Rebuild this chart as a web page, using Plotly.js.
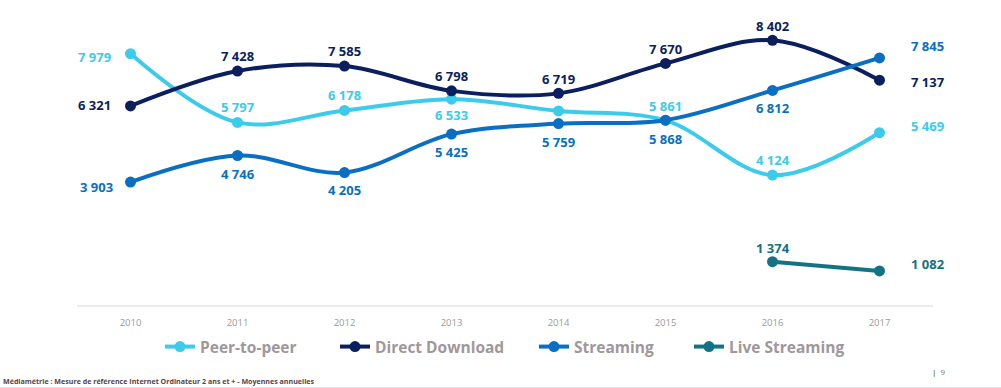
<!DOCTYPE html>
<html>
<head>
<meta charset="utf-8">
<script src="https://cdn.plot.ly/plotly-3.0.1.min.js"></script>
<style>
  html, body { margin: 0; padding: 0; background: #ffffff; }
  #chart { width: 1001px; height: 388px; }
</style>
</head>
<body>
<div id="chart"></div>
<script>
// ---- Data ----
const years = [2010, 2011, 2012, 2013, 2014, 2015, 2016, 2017];
const peerToPeer = [7979, 5797, 6178, 6533, 6160, 5861, 4124, 5469];
const directDownload = [6321, 7428, 7585, 6798, 6719, 7670, 8402, 7137];
const streaming = [3903, 4746, 4205, 5425, 5759, 5868, 6812, 7845];
const liveYears = [2016, 2017];
const liveStreaming = [1374, 1082];
const showP2PLabel = [true, true, true, true, false, true, true, true];

const seriesNames = ['Peer-to-peer', 'Direct Download', 'Streaming', 'Live Streaming'];
const tickLabels = ['2010', '2011', '2012', '2013', '2014', '2015', '2016', '2017'];

// ---- Styling / label placement (layout only) ----
const colors = ['#3ccbea', '#0b1f5e', '#0a6fc2', '#137384'];
// [anchor, xshift, yshift]
const posP2P = [['right', -18, -3], ['center', 0, 15], ['center', 0, 15], ['center', 0, -16], null, ['center', 0, 14], ['center', 0, 15], ['left', 29, 7]];
const posDD = [['right', -18, 1], ['center', 0, 15], ['center', 0, 15], ['center', 0, 15], ['center', 0, 14], ['center', 0, 14], ['center', 0, 14], ['left', 29, -2]];
const posST = [['right', -16, -5], ['center', 0, -18], ['center', 0, -17], ['center', 0, -18], ['center', 0, -18], ['center', 0, -19], ['center', 0, -18], ['left', 29, 12]];
const posLive = [['center', 0, 14], ['left', 29, 7]];
// legend text start pixels
const legendTextX = [201, 376, 575, 730];

const PL = 77, PW = 856, PB = 305, PH = 285;

function fmt(v) {
  return String(v).replace(/\B(?=(\d{3})+(?!\d))/g, ' ');
}

function mkTrace(x, y, name, color, legendId) {
  return {
    x: x, y: y, name: name, type: 'scatter', mode: 'lines+markers',
    line: {color: color, width: 4, shape: 'spline', smoothing: 1},
    marker: {color: color, size: 11},
    hoverinfo: 'skip', cliponaxis: false, legend: legendId
  };
}

const legendIds = ['legend', 'legend2', 'legend3', 'legend4'];
const traces = [
  mkTrace(years, peerToPeer, seriesNames[0], colors[0], legendIds[0]),
  mkTrace(years, directDownload, seriesNames[1], colors[1], legendIds[1]),
  mkTrace(years, streaming, seriesNames[2], colors[2], legendIds[2]),
  mkTrace(liveYears, liveStreaming, seriesNames[3], colors[3], legendIds[3])
];

const annotations = [];
function addLabels(xs, ys, pos, color, show) {
  xs.forEach((x, i) => {
    if (show && !show[i]) return;
    const p = pos[i];
    if (!p) return;
    annotations.push({
      x: x, y: ys[i], xref: 'x', yref: 'y', text: fmt(ys[i]), showarrow: false,
      xanchor: p[0], yanchor: 'middle', xshift: p[1], yshift: p[2],
      font: {family: 'Open Sans', size: 13, color: color, weight: 700}
    });
  });
}
addLabels(years, peerToPeer, posP2P, colors[0], showP2PLabel);
addLabels(years, directDownload, posDD, colors[1]);
addLabels(years, streaming, posST, colors[2]);
addLabels(liveYears, liveStreaming, posLive, colors[3]);

// footer texts
annotations.push({
  xref: 'paper', yref: 'paper', x: (1 - PL) / PW, y: -(381 - PB) / PH,
  xanchor: 'left', yanchor: 'middle', showarrow: false,
  text: 'Médiamétrie : Mesure de référence Internet Ordinateur 2 ans et + - Moyennes annuelles',
  font: {family: 'Open Sans', size: 7.1, color: '#5b4444', weight: 700}
});
annotations.push({
  xref: 'paper', yref: 'paper', x: (930 - PL) / PW, y: -(371 - PB) / PH,
  xanchor: 'left', yanchor: 'middle', showarrow: false,
  text: '<span style="color:#333">|</span>  9',
  font: {family: 'Open Sans', size: 8, color: '#777'}
});

const layout = {
  width: 1001, height: 388,
  margin: {l: PL, r: 1001 - PL - PW, t: PB - PH, b: 388 - PB},
  paper_bgcolor: '#ffffff', plot_bgcolor: '#ffffff',
  showlegend: true,
  xaxis: {
    range: [2009.5, 2017.5], tickmode: 'array', tickvals: years, ticktext: tickLabels,
    showgrid: false, zeroline: false, showline: true, linecolor: '#ececec', linewidth: 2,
    ticks: 'outside', ticklen: 8, tickcolor: 'rgba(0,0,0,0)',
    tickfont: {family: 'Open Sans', size: 9.5, color: '#9a9a9a'}, fixedrange: true
  },
  yaxis: {
    range: [0, 9048], visible: false, showgrid: false, zeroline: false, fixedrange: true
  },
  shapes: [{
    type: 'line', xref: 'paper', yref: 'paper', x0: -PL / PW, x1: (1001 - PL) / PW,
    y0: -(387.5 - PB) / PH, y1: -(387.5 - PB) / PH,
    line: {color: '#d8eef8', width: 1}
  }],
  annotations: annotations
};

legendIds.forEach((id, i) => {
  layout[id] = {
    orientation: 'h', x: (legendTextX[i] - 41 - PL) / PW, xanchor: 'left',
    y: -(347 - PB) / PH, yanchor: 'middle',
    font: {family: 'Open Sans', size: 15.5, color: '#a0979b', weight: 700},
    itemwidth: 30, bgcolor: 'rgba(0,0,0,0)', borderwidth: 0
  };
});

Plotly.newPlot('chart', traces, layout, {displayModeBar: false, staticPlot: true});
</script>
</body>
</html>
